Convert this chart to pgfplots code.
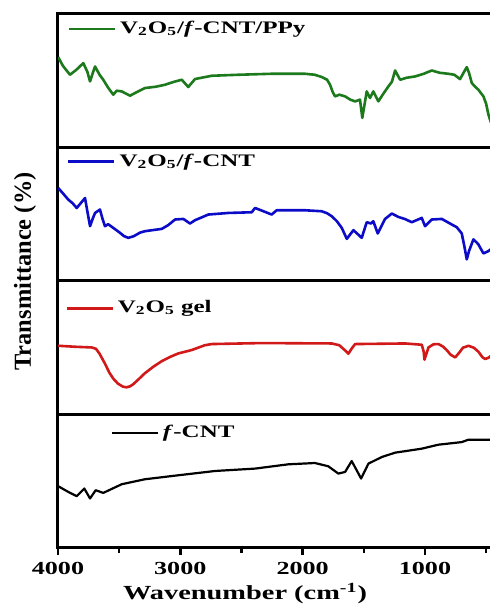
\documentclass[border=0pt]{standalone}
\usepackage{fontspec}
\setmainfont[FakeStretch=1.42]{Liberation Serif}
\newfontfamily\ylfont{Liberation Serif}
\usepackage{pgfplots}
\pgfplotsset{compat=1.18}

\definecolor{cgreen}{RGB}{28,122,28}
\definecolor{cblue}{RGB}{12,12,200}
\definecolor{cred}{RGB}{210,25,25}

\pgfplotsset{
  panel/.style={
    scale only axis,
    width=216.5pt, height=66.75pt,
    xmin=460, xmax=4000, x dir=reverse,
    ymin=0, ymax=134,
    ytick=\empty, xtick=\empty,
    axis line style={line width=1.5pt},
    legend style={draw=none, fill=none, inner sep=0pt, anchor=west,
      font=\fontsize{8.8}{10}\selectfont\bfseries, legend cell align=left},
    legend image code/.code={\draw[##1] (0pt,0pt) -- (23pt,0pt);},
  },
  curve/.style={line width=1.3pt, line join=round},
}

\begin{document}
\begin{tikzpicture}
% f-CNT (bottom)
\begin{axis}[panel, at={(0,0)},
  xtick={4000,3000,2000,1000}, xticklabels={4000,3000,2000,1000},
  minor xtick={3500,2500,1500,500},
  tick align=outside, xtick pos=bottom,
  major tick length=3.5pt, minor tick length=2.5pt,
  every tick/.style={line width=1.2pt, black},
  /pgf/number format/assume math mode=true,
  xticklabel style={font=\fontsize{9.2}{10}\selectfont\bfseries},
  legend style={at={(0.121,0.864)}}]
\addplot[curve, black, line width=1.1pt] coordinates {
(3998,62) (3916,56.3) (3847,52) (3785,59.7) (3738,49.7) (3692,58) (3630,55.3)
(3479,64) (3289,69) (3016,73) (2716,77.3) (2389,79.7) (2117,84) (1899,85.3)
(1790,82) (1708,74.7) (1653,76.3) (1599,87.3) (1558,78) (1522,69.7) (1462,84.7)
(1353,91.3) (1244,95.7) (1026,99.7) (890,103.7) (699,106.3) (645,108.7) (460,108.7)};
\addlegendentry{\textit{f}-CNT}
\end{axis}
% V2O5 gel
\begin{axis}[panel, at={(0,66.75pt)}, legend style={at={(0.016,0.796)}}]
\addplot[curve, cred] coordinates {
(3998,69) (3861,68) (3725,67.3) (3690,66) (3660,61) (3616,51) (3580,42)
(3548,36) (3510,31) (3470,28) (3440,27.3) (3410,28.3) (3384,30.5) (3340,35.5)
(3289,41.5) (3220,48) (3152,53.5) (3080,58) (3016,61.3) (2907,64.7) (2800,69.5)
(2744,70.7) (2335,71.7) (1762,71.3) (1700,69.5) (1680,67.3) (1650,64)
(1626,61) (1600,66) (1571,70.7) (1162,71.3) (1026,70) (1010,63) (1004,55)
(985,62) (971,67.3) (930,70.5) (889,70.7) (850,68) (821,64.5) (790,60)
(753,57.3) (720,62) (690,67) (644,69) (600,67) (563,63) (530,57.5) (508,55.7)
(480,57) (460,59)};
\addlegendentry{V\textsubscript{2}O\textsubscript{5} gel}
\end{axis}
% V2O5/f-CNT
\begin{axis}[panel, at={(0,133.5pt)}, legend style={at={(0.020,0.894)}}]
\addplot[curve, cblue] coordinates {
(3998,93.3) (3960,88) (3916,81.7) (3880,78) (3847,73.3) (3815,78) (3779,83.3)
(3760,70) (3738,55) (3715,63) (3697,68.3) (3657,71.7) (3635,62) (3616,55)
(3590,57) (3548,53.3) (3500,49) (3460,45) (3425,43.3) (3380,45) (3330,48.5)
(3289,50) (3152,52.3) (3100,56) (3043,61.7) (2975,62.3) (2921,57.7) (2880,61)
(2771,66.7) (2607,68.3) (2416,69) (2389,73.3) (2320,70) (2253,66.7) (2212,71)
(1980,71) (1844,70) (1800,68) (1762,65) (1720,60) (1680,53.3) (1639,42.3)
(1585,51) (1540,46) (1517,43.3) (1476,59) (1441,57.7) (1422,60) (1386,47.7)
(1326,62.3) (1271,67.7) (1217,64.3) (1160,62) (1108,59) (1026,63.3) (999,55)
(944,61.7) (862,62.3) (781,56.7) (740,54) (699,47.7) (675,33) (658,21.7)
(640,30) (604,41.7) (580,39) (563,36.7) (522,27.7) (481,30) (460,32)};
\addlegendentry{V\textsubscript{2}O\textsubscript{5}/\textit{f}-CNT}
\end{axis}
% V2O5/f-CNT/PPy (top)
\begin{axis}[panel, at={(0,200.25pt)}, legend style={at={(0.021,0.888)}}]
\addplot[curve, cgreen] coordinates {
(3998,90.7) (3960,82) (3902,73) (3850,78) (3793,84.7) (3760,76) (3738,66.3)
(3715,75) (3697,81.3) (3660,73) (3630,68) (3590,60) (3548,53) (3520,57)
(3479,56.3) (3411,52) (3350,56) (3288,59.7) (3200,61) (3125,63) (3050,66)
(2988,68) (2935,60.7) (2880,68.7) (2744,72) (2526,73) (2253,74) (1980,74)
(1900,73) (1843,70.7) (1800,68) (1776,63) (1755,56) (1735,51.3) (1700,53)
(1653,51.3) (1610,48) (1571,46.3) (1531,48) (1512,29.7) (1476,56.3)
(1449,49.7) (1422,56.3) (1381,46.3) (1340,54) (1299,61.3) (1270,66)
(1244,77.3) (1203,68) (1150,70) (1081,71.3) (1010,74) (944,77.3) (880,75)
(809,74) (760,73) (713,68.7) (680,76) (658,80.7) (640,75) (617,64.7)
(590,61) (563,58) (522,51.3) (500,44) (481,33) (460,25)};
\addlegendentry{V\textsubscript{2}O\textsubscript{5}/\textit{f}-CNT/PPy}
\end{axis}
\node[rotate=90, font=\ylfont\bfseries\fontsize{12.2}{14}\selectfont]
  at (-16.5pt,138.25pt) {Transmittance (\%)};
\node[anchor=base, font=\fontsize{10}{12}\selectfont\bfseries]
  at (93.5pt,-26pt) {Wavenumber (cm\textsuperscript{-1})};
\pgfresetboundingbox
\path (-29pt,-31.5pt) rectangle (215.5pt,274pt);
\end{tikzpicture}
\end{document}
